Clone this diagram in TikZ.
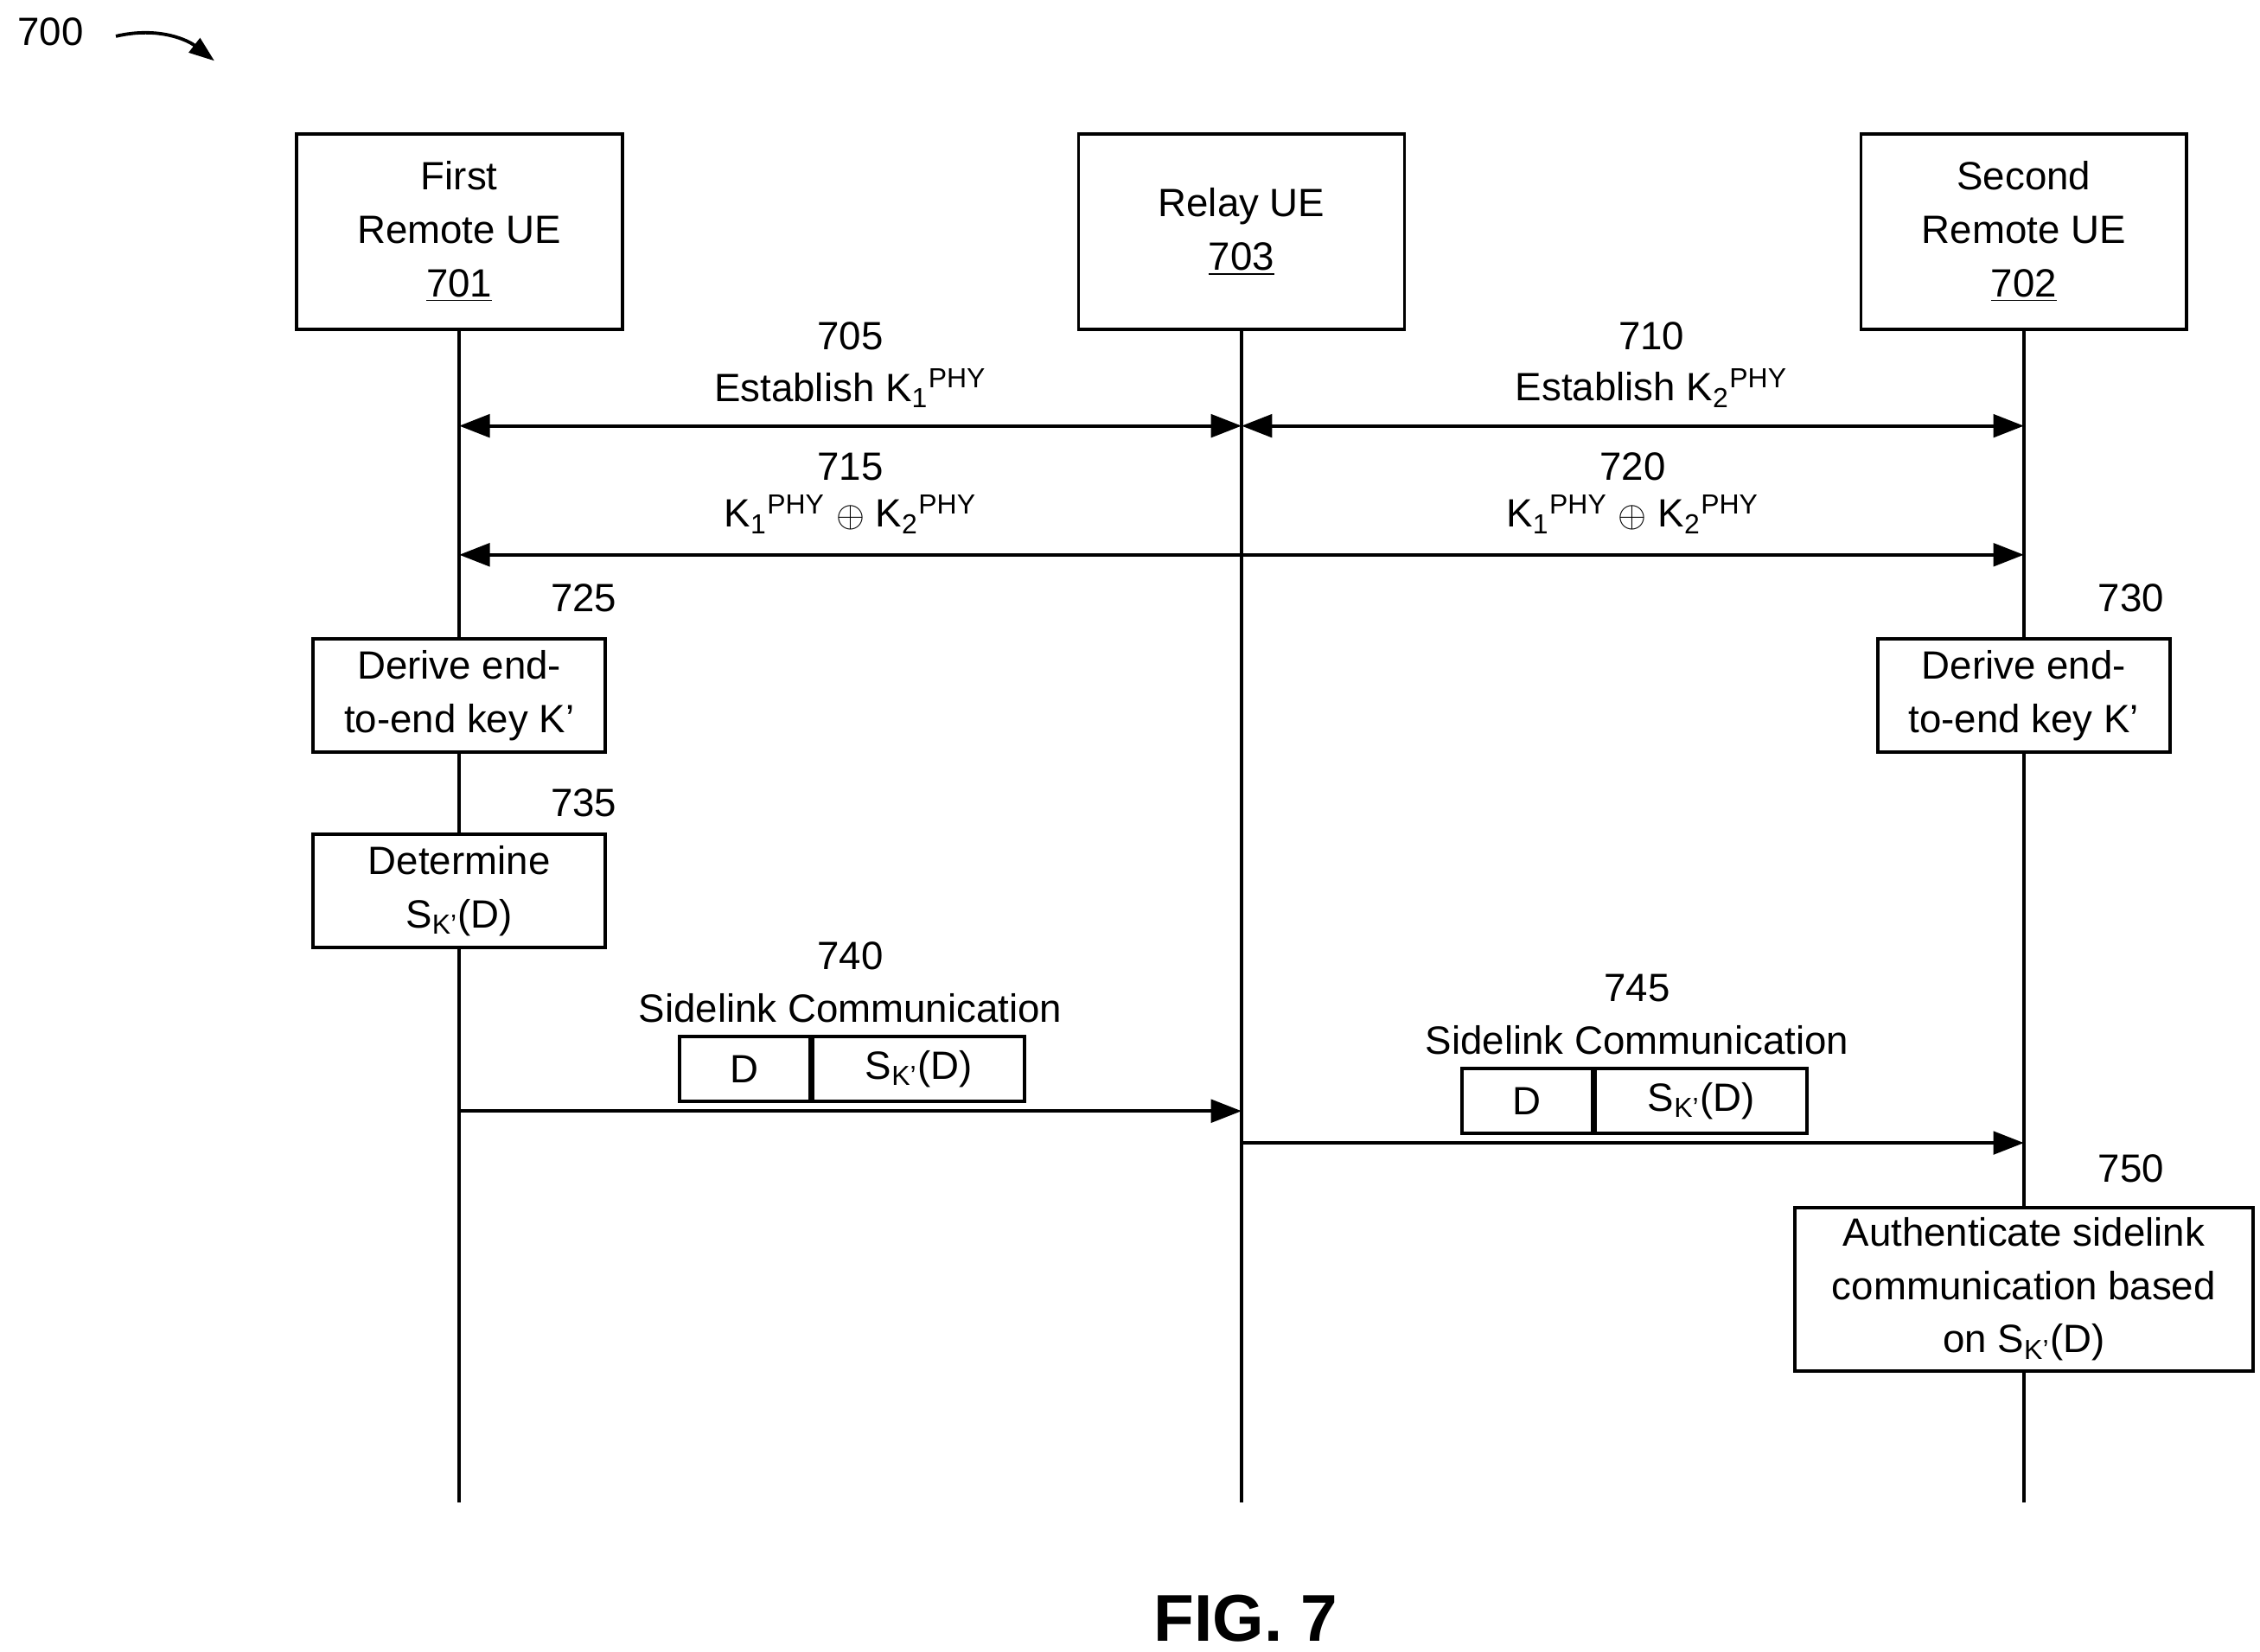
\documentclass[tikz,border=0pt]{standalone}
\usepackage{fontspec}
\setmainfont{Liberation Sans}
\usetikzlibrary{arrows.meta}
\tikzset{
  msg/.style={line width=1.3pt,-{Triangle[length=12pt,width=9pt]}},
  dmsg/.style={line width=1.3pt,{Triangle[length=12pt,width=9pt]}-{Triangle[length=12pt,width=9pt]}},
  life/.style={line width=1.3pt},
  ent/.style={draw,line width=1.3pt,minimum width=4.5cm,minimum height=2.7cm,align=center},
  proc/.style={draw,line width=1.3pt,minimum width=4.04cm,minimum height=1.56cm,align=center,inner sep=1pt},
  cell/.style={draw,line width=1.3pt,minimum height=0.9cm,inner sep=0pt},
  lbl/.style={inner sep=0pt}
}
\begin{document}
\begin{tikzpicture}[x=0.02cm,y=-0.02cm,font=\fontsize{15.5}{21}\selectfont]
  \useasboundingbox (0,0) rectangle (1560,1140);

  \node[lbl] (fig) at (35,22) {700};
  \coordinate (fa) at (80,25);
  \coordinate (fb) at (148,42);
  \draw[line width=1.3pt,-{Triangle[length=10pt,width=7pt]}] (fa) .. controls (110,18) and (130,28) .. (fb);

  \node[ent] (ue1) at (317,160) {First\\Remote UE\\\underline{701}};
  \node[ent] (relay) at (857,160) {Relay UE\\\underline{703}};
  \node[ent] (ue2) at (1397,160) {Second\\Remote UE\\\underline{702}};

  \coordinate (e1) at (317,1037);
  \coordinate (er) at (857,1037);
  \coordinate (e2) at (1397,1037);

  \node[proc] (derive1) at (317,480) {Derive end-\\to-end key K’};
  \node[proc] (derive2) at (1397,480) {Derive end-\\to-end key K’};
  \node[proc] (det) at (317,615) {Determine\\S\textsubscript{K’}(D)};
  \node[draw,line width=1.3pt,minimum width=6.32cm,minimum height=2.26cm,align=center,inner sep=1pt] (auth) at (1397,890)
    {Authenticate sidelink\\communication based\\on S\textsubscript{K’}(D)};

  \draw[life] (ue1) -- (derive1);
  \draw[life] (derive1) -- (det);
  \draw[life] (det) -- (e1);
  \draw[life] (relay) -- (er);
  \draw[life] (ue2) -- (derive2);
  \draw[life] (derive2) -- (auth);
  \draw[life] (auth) -- (e2);

  \node[lbl] at (403,413) {725};
  \node[lbl] at (1471,413) {730};
  \node[lbl] at (403,554) {735};
  \node[lbl] at (1471,807) {750};

  % key establishment
  \coordinate (a705) at (317,294);
  \coordinate (b705) at (857,294);
  \coordinate (b710) at (1397,294);
  \node[lbl] at (587,232) {705};
  \node[lbl] at (587,268) {Establish K\textsubscript{1}\textsuperscript{PHY}};
  \node[lbl] at (1140,232) {710};
  \node[lbl] at (1140,268) {Establish K\textsubscript{2}\textsuperscript{PHY}};
  \draw[dmsg] (a705) -- (b705);
  \draw[dmsg] (b705) -- (b710);

  \coordinate (a715) at (317,383);
  \coordinate (b715) at (1397,383);
  \node[lbl] at (587,322) {715};
  \node[lbl] at (587,355) {K\textsubscript{1}\textsuperscript{PHY} {\Large$\oplus$} K\textsubscript{2}\textsuperscript{PHY}};
  \node[lbl] at (1127,322) {720};
  \node[lbl] at (1127,355) {K\textsubscript{1}\textsuperscript{PHY} {\Large$\oplus$} K\textsubscript{2}\textsuperscript{PHY}};
  \draw[dmsg] (a715) -- (b715);

  % sidelink
  \node[lbl] at (587,660) {740};
  \node[lbl] at (587,696) {Sidelink Communication};
  \node[cell,minimum width=1.8cm] (d1) at (514,738) {D};
  \node[cell,minimum width=2.92cm,anchor=west] (s1) at (d1.east) {S\textsubscript{K’}(D)};
  \coordinate (a740) at (317,767);
  \coordinate (b740) at (857,767);
  \draw[msg] (a740) -- (b740);

  \node[lbl] at (1130,682) {745};
  \node[lbl] at (1130,718) {Sidelink Communication};
  \node[cell,minimum width=1.8cm] (d2) at (1054,760) {D};
  \node[cell,minimum width=2.92cm,anchor=west] (s2) at (d2.east) {S\textsubscript{K’}(D)};
  \coordinate (a745) at (857,789);
  \coordinate (b745) at (1397,789);
  \draw[msg] (a745) -- (b745);

  \node[lbl,font=\fontsize{26}{30}\selectfont\bfseries] (cap) at (860,1117) {FIG. 7};
\end{tikzpicture}
\end{document}
